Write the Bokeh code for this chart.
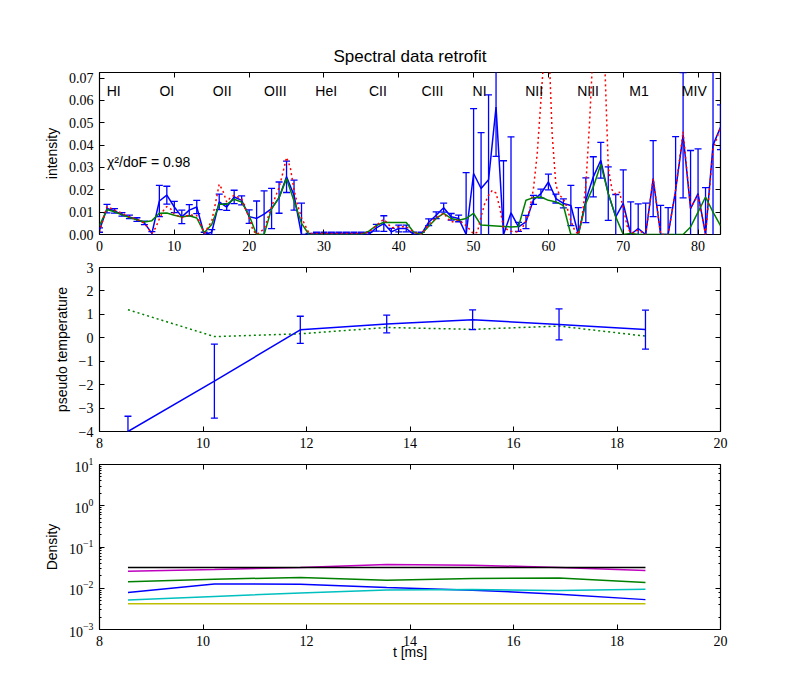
import numpy as np
from bokeh.plotting import figure
from bokeh.models import (Range1d, LinearAxis, LogAxis, FixedTicker, LogTicker,
                          PrintfTickFormatter, CustomJSTickFormatter, Label,
                          CustomLabelingPolicy)
from bokeh.layouts import column
from bokeh.embed import file_html
from bokeh.resources import INLINE
from bokeh.core.properties import value

# ---------------- data: spectral panel ----------------
channels = list(range(84))
measured = [0.002, 0.0116, 0.0106, 0.009, 0.0079, 0.0067, 0.0052, 0.0005, 0.0150, 0.0176,
            0.0123, 0.0079, 0.0109, 0.0123, 0.0, 0.001, 0.0146, 0.0123, 0.0168, 0.0153,
            0.008, 0.0072, 0.0091, 0.0116, 0.0165, 0.0258, 0.0176, 0.0, 0.0, 0.0005,
            0.0005, 0.0005, 0.0005, 0.0005, 0.0005, 0.0005, 0.0, 0.003, 0.0049, 0.0012,
            0.0027, 0.0027, 0.0, 0.0, 0.0055, 0.0086, 0.0120, 0.0079, 0.0072, 0.0,
            0.0273, 0.0206, 0.0245, 0.057, 0.0, 0.0097, 0.0034, 0.0056, 0.0155, 0.0183,
            0.0235, 0.0161, 0.0139, 0.0130, 0.0, 0.0153, 0.0258, 0.0332, 0.0183, 0.0079,
            0.0139, 0.0, 0.0027, 0.0, 0.025, 0.0, 0.0, 0.0198, 0.0444, 0.0116,
            0.0183, 0.0, 0.040, 0.048]
meas_err = [0.001, 0.0019, 0.001, 0.0008, 0.0008, 0.0008, 0.0008, 0.0008, 0.007, 0.004,
            0.0025, 0.003, 0.0025, 0.003, 0.001, 0.0012, 0.0035, 0.0015, 0.003, 0.002,
            0.003, 0.0078, 0.0104, 0.009, 0.007, 0.007, 0.0067, 0.014, 0.0005, 0.0005,
            0.0005, 0.0005, 0.0005, 0.0005, 0.0005, 0.0005, 0.001, 0.0015, 0.0035, 0.0015,
            0.0015, 0.0015, 0.001, 0.001, 0.0015, 0.0015, 0.002, 0.0015, 0.0015, 0.0277,
            0.029, 0.025, 0.038, 0.022, 0.033, 0.034, 0.002, 0.003, 0.002, 0.002,
            0.0035, 0.002, 0.002, 0.009, 0.012, 0.010, 0.009, 0.008, 0.012, 0.010,
            0.015, 0.0146, 0.011, 0.014, 0.017, 0.013, 0.012, 0.024, 0.028, 0.026,
            0.020, 0.021, 0.060, 0.010]
fit = [0.004, 0.0112, 0.0102, 0.0088, 0.0076, 0.0066, 0.0056, 0.0062, 0.0095, 0.0096,
       0.0086, 0.0078, 0.0084, 0.0074, 0.0008, 0.0045, 0.0135, 0.0135, 0.0158, 0.0145,
       0.0085, 0.0, 0.0, 0.0115, 0.0165, 0.0250, 0.0150, 0.0050, 0.0, 0.0,
       0.0, 0.0, 0.0, 0.0, 0.0, 0.0, 0.0015, 0.004, 0.0055, 0.0054,
       0.0054, 0.0054, 0.001, 0.0, 0.0037, 0.0072, 0.0094, 0.0072, 0.0064, 0.0072,
       0.0094, 0.0042, 0.0040, 0.0038, 0.0036, 0.0034, 0.0036, 0.0153, 0.0165, 0.0168,
       0.0153, 0.0146, 0.0130, 0.0, 0.0, 0.0139, 0.0213, 0.0314, 0.0183, 0.0079,
       0.0, 0.0005, 0.0, 0.0, 0.0, 0.0, 0.0, 0.0, 0.0, 0.0034,
       0.0100, 0.0168, 0.0100, 0.0040]
model_x = [0, 0.5, 1, 2, 3, 4, 5, 6, 7, 7.5, 8, 8.5, 9, 9.5, 10, 11, 12, 13, 14, 15,
           15.5, 16, 16.5, 17, 17.5, 18, 19, 20, 20.5, 21, 22, 23, 24, 24.5, 25, 25.5,
           26, 26.5, 27, 28, 29, 30, 31, 32, 33, 34, 35, 36, 37, 37.5, 38, 38.5, 39, 40,
           41, 42, 43, 44, 45, 46, 46.5, 47, 48, 49, 50, 50.5, 51, 51.5, 52, 52.5, 53,
           53.5, 54, 55, 56, 56.5, 57, 57.5, 58, 58.5, 59, 59.5, 60, 60.5, 61, 61.5, 62,
           62.5, 63, 63.5, 64, 64.5, 65, 65.5, 66, 66.5, 67, 67.5, 68, 68.5, 69, 69.5,
           70, 70.5, 71, 72, 73, 74, 75, 76, 77, 78, 79, 80, 81, 82, 83]
model_y = [0.001, 0.007, 0.0125, 0.011, 0.0095, 0.008, 0.0068, 0.005, 0.0005, 0.003,
           0.007, 0.0105, 0.0125, 0.0115, 0.0092, 0.0075, 0.0088, 0.0085, 0.0005, 0.006,
           0.014, 0.0225, 0.0195, 0.0145, 0.0165, 0.0175, 0.016, 0.0075, 0.002, 0.0,
           0.0025, 0.0125, 0.021, 0.0275, 0.0345, 0.030, 0.020, 0.013, 0.0075, 0.0005,
           0.0005, 0.0005, 0.0005, 0.0005, 0.0005, 0.0005, 0.0005, 0.001, 0.004, 0.0055,
           0.0068, 0.005, 0.003, 0.0035, 0.0035, 0.001, 0.0, 0.0045, 0.0075, 0.0095,
           0.0075, 0.0055, 0.0065, 0.004, 0.0002, 0.001, 0.008, 0.014, 0.0175, 0.0198,
           0.0185, 0.012, 0.003, 0.0015, 0.001, 0.003, 0.006, 0.011, 0.0205, 0.036,
           0.060, 0.085, 0.090, 0.045, 0.022, 0.0175, 0.016, 0.012, 0.006, 0.002,
           0.0, 0.008, 0.022, 0.050, 0.085, 0.100, 0.100, 0.080, 0.030, 0.020,
           0.018, 0.019, 0.012, 0.004, 0.0005, 0.002, 0.0, 0.025, 0.0, 0.0,
           0.020, 0.046, 0.012, 0.0175, 0.0, 0.038, 0.048]
line_names = ["HI", "OI", "OII", "OIII", "HeI", "CII", "CIII", "NI", "NII", "NIII", "M1", "MIV"]
line_pos = [1.9, 9.0, 16.4, 23.5, 30.3, 37.2, 44.5, 50.8, 58.1, 65.3, 72.1, 79.5]
chi2_dof = 0.98

# ---------------- data: time panels ----------------
t_ms = [8.55, 10.22, 11.88, 13.55, 15.21, 16.88, 18.55]
pseudo_T = [-4.0, -1.85, 0.34, 0.59, 0.77, 0.57, 0.35]
pseudo_T_err = [0.65, 1.58, 0.58, 0.38, 0.42, 0.66, 0.83]
pseudo_T_model = [1.2, 0.05, 0.17, 0.44, 0.36, 0.50, 0.07]

dens_b = [0.0079, 0.0127, 0.0125, 0.0104, 0.0090, 0.0072, 0.0053]
dens_g = [0.0143, 0.0166, 0.0182, 0.0157, 0.0172, 0.0178, 0.0138]
dens_c = [0.0052, 0.0063, 0.0077, 0.0091, 0.0093, 0.0088, 0.0094]
dens_m = [0.0259, 0.0284, 0.0320, 0.0376, 0.0362, 0.0320, 0.0268]
dens_y = [0.0042, 0.0042, 0.0042, 0.0042, 0.0042, 0.0042, 0.0042]
dens_k = [0.0318, 0.0318, 0.0318, 0.0318, 0.0318, 0.0318, 0.0318]

xticks_top = [0, 10, 20, 30, 40, 50, 60, 70, 80]
yticks_top = [0.0, 0.01, 0.02, 0.03, 0.04, 0.05, 0.06, 0.07]
xticks_t = [8, 10, 12, 14, 16, 18, 20]
yticks_T = [-4, -3, -2, -1, 0, 1, 2, 3]

BLUE, GREEN, RED = "#0000ff", "#008000", "#ff0000"
CYAN, MAGENTA, OLIVE = "#00bfbf", "#bf00bf", "#bfbf00"
SANS = "Liberation Sans"
SERIF = "Liberation Serif"


def style_axis(ax, labels=True, log=False):
    ax.axis_line_color = None
    ax.major_tick_in = 5
    ax.major_tick_out = 0
    ax.major_tick_line_color = "black"
    ax.major_tick_line_width = 1
    if log:
        ax.minor_tick_in = 2
        ax.minor_tick_out = 0
        ax.minor_tick_line_color = "black"
    else:
        ax.minor_tick_line_color = None
    ax.major_label_text_font = SERIF
    ax.major_label_text_font_size = "14px"
    ax.major_label_text_color = "black"
    ax.major_label_standoff = 6
    ax.axis_label_text_font = SANS
    ax.axis_label_text_font_size = "14px"
    ax.axis_label_text_font_style = "normal"
    ax.axis_label_text_color = "black"
    ax.axis_label_standoff = 6
    if not labels:
        # mirrored tick marks only: no labels are shown
        ax.major_label_policy = CustomLabelingPolicy(code="return []")
        ax.major_label_text_font_size = "1px"
        ax.major_label_standoff = 0


def make_fig(x_range, y_range, top, bottom, frame_h, y_log=False):
    p = figure(x_range=x_range, y_range=y_range, frame_width=621, frame_height=frame_h,
               min_border_left=99, min_border_right=40, min_border_top=top,
               min_border_bottom=bottom, toolbar_location=None, output_backend="svg",
               y_axis_type="log" if y_log else "linear")
    p.grid.visible = False
    p.outline_line_color = "black"
    p.outline_line_width = 1.2
    p.outline_line_alpha = 1
    p.background_fill_color = "white"
    p.border_fill_color = "white"
    return p


def add_mirror_axes(p, xticker, yticker, log=False):
    top_ax = LinearAxis(ticker=xticker)
    style_axis(top_ax, labels=False)
    p.add_layout(top_ax, "above")
    right_ax = LogAxis(ticker=yticker) if log else LinearAxis(ticker=yticker)
    style_axis(right_ax, labels=False, log=log)
    p.add_layout(right_ax, "right")


# ---------------- panel 1 ----------------
p1 = make_fig(Range1d(0, 83), Range1d(0, 0.0725), 72, 24, 162)
p1.title.text = "Spectral data retrofit"
p1.title.align = "center"
p1.title.text_font = SANS
p1.title.text_font_size = "17px"
p1.title.text_font_style = "normal"
p1.title.text_color = "black"
p1.title.standoff = 6
style_axis(p1.xaxis[0])
style_axis(p1.yaxis[0])
p1.xaxis[0].ticker = FixedTicker(ticks=xticks_top)
p1.yaxis[0].ticker = FixedTicker(ticks=yticks_top)
p1.yaxis[0].formatter = PrintfTickFormatter(format="%.2f")
p1.yaxis[0].axis_label = "intensity"
add_mirror_axes(p1, FixedTicker(ticks=xticks_top), FixedTicker(ticks=yticks_top))

upper = [v + e for v, e in zip(measured, meas_err)]
lower = [v - e for v, e in zip(measured, meas_err)]
p1.segment(x0=channels, y0=lower, x1=channels, y1=upper, line_color=BLUE, line_width=1.3)
p1.scatter(x=channels, y=upper, marker="dash", size=7, line_color=BLUE, line_width=1.3)
p1.scatter(x=channels, y=lower, marker="dash", size=7, line_color=BLUE, line_width=1.3)
p1.line(channels, measured, line_color=BLUE, line_width=1.5)
p1.line(channels, fit, line_color=GREEN, line_width=1.5)
p1.line(model_x, model_y, line_color=RED, line_width=1.5, line_dash="2 3")
p1.text(x=line_pos, y=[0.064] * len(line_pos), text=line_names,
        text_font=value(SANS), text_font_size="14px", text_align="center",
        text_baseline="alphabetic", text_color="black")
p1.add_layout(Label(x=1.0, y=0.0323, text="\u03c7\u00b2/doF = %.2f" % chi2_dof,
                    text_font=SANS, text_font_size="14px", text_baseline="alphabetic",
                    text_color="black"))

# ---------------- panel 2 ----------------
p2 = make_fig(Range1d(8, 20), Range1d(-4, 3), 9, 24, 164)
style_axis(p2.xaxis[0])
style_axis(p2.yaxis[0])
p2.xaxis[0].ticker = FixedTicker(ticks=xticks_t)
p2.yaxis[0].ticker = FixedTicker(ticks=yticks_T)
p2.yaxis[0].formatter = CustomJSTickFormatter(
    code="return tick < 0 ? '\\u2212' + Math.abs(tick) : String(tick);")
p2.yaxis[0].axis_label = "pseudo temperature"
add_mirror_axes(p2, FixedTicker(ticks=xticks_t), FixedTicker(ticks=yticks_T))

T_up = [v + e for v, e in zip(pseudo_T, pseudo_T_err)]
T_lo = [v - e for v, e in zip(pseudo_T, pseudo_T_err)]
p2.line(t_ms, pseudo_T_model, line_color=GREEN, line_width=1.5, line_dash="2 3")
p2.segment(x0=t_ms, y0=T_lo, x1=t_ms, y1=T_up, line_color=BLUE, line_width=1.3)
p2.scatter(x=t_ms, y=T_up, marker="dash", size=7, line_color=BLUE, line_width=1.3)
p2.scatter(x=t_ms, y=T_lo, marker="dash", size=7, line_color=BLUE, line_width=1.3)
p2.line(t_ms, pseudo_T, line_color=BLUE, line_width=1.5)

# ---------------- panel 3 ----------------
p3 = make_fig(Range1d(8, 20), Range1d(1e-3, 1e1), 9, 40, 165, y_log=True)
style_axis(p3.xaxis[0])
style_axis(p3.yaxis[0], log=True)
p3.xaxis[0].ticker = FixedTicker(ticks=xticks_t)
p3.xaxis[0].axis_label = "t [ms]"
p3.xaxis[0].axis_label_standoff = -5
p3.yaxis[0].axis_label = "Density"
add_mirror_axes(p3, FixedTicker(ticks=xticks_t), LogTicker(), log=True)

for series, col in [(dens_b, BLUE), (dens_g, GREEN), (dens_c, CYAN),
                    (dens_m, MAGENTA), (dens_y, OLIVE), (dens_k, "black")]:
    p3.line(t_ms, series, line_color=col, line_width=1.5)

layout = column(p1, p2, p3)
open("out.html", "w").write(file_html(layout, INLINE))
